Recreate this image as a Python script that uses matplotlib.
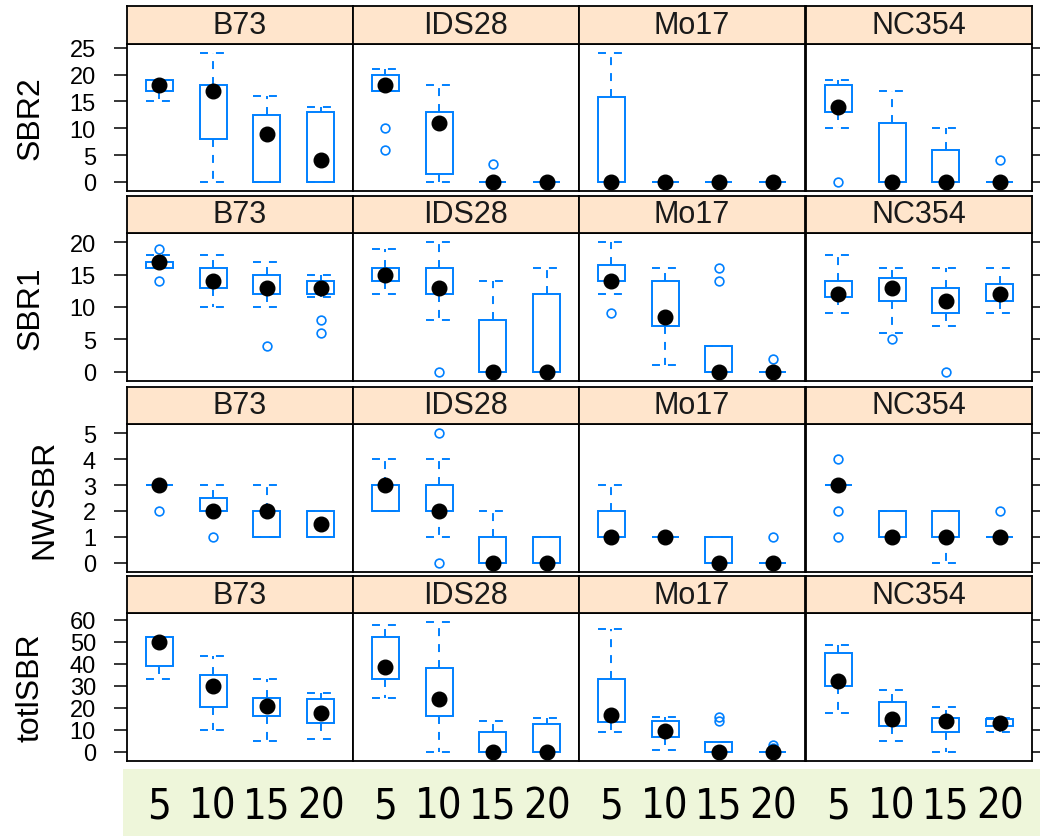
import matplotlib
matplotlib.use('Agg')
import matplotlib.pyplot as plt
import matplotlib.transforms as mtransforms
from matplotlib.patches import Rectangle
from matplotlib import font_manager

# ---------------- data ----------------
genotypes = ['B73', 'IDS28', 'Mo17', 'NC354']
densities = ['5', '10', '15', '20']
traits = ['SBR2', 'SBR1', 'NWSBR', 'totlSBR']
yticks = {
    'SBR2': [0, 5, 10, 15, 20, 25],
    'SBR1': [0, 5, 10, 15, 20],
    'NWSBR': [0, 1, 2, 3, 4, 5],
    'totlSBR': [0, 10, 20, 30, 40, 50, 60],
}

# each array: [genotype][density]  (lower whisker, Q1, median, Q3, upper whisker)
SBR2_low = [[15, 0, 0, 0], [17, 0, 0, 0], [0, 0, 0, 0], [10, 0, 0, 0]]
SBR2_q1 = [[17, 8, 0, 0], [17, 1.5, 0, 0], [0, 0, 0, 0], [13, 0, 0, 0]]
SBR2_med = [[18, 17, 9, 4], [18, 11, 0, 0], [0, 0, 0, 0], [14, 0, 0, 0]]
SBR2_q3 = [[19, 18, 12.5, 13], [20, 13, 0, 0], [15.75, 0, 0, 0], [18, 11, 6, 0]]
SBR2_up = [[19, 24, 16, 14], [21, 18, 0, 0], [24, 0, 0, 0], [19, 17, 10, 0]]
SBR2_out = [[[], [], [], []], [[10, 6], [], [3.4], []], [[], [], [], []], [[0], [], [], [4]]]

SBR1_low = [[16, 10, 10, 11.5], [12, 8, 0, 0], [12, 1, 0, 0], [9, 6, 7, 9]]
SBR1_q1 = [[16, 13, 12, 12], [14, 12, 0, 0], [14, 7, 0, 0], [11.5, 11, 9, 11]]
SBR1_med = [[17, 14, 13, 13], [15, 13, 0, 0], [14, 8.5, 0, 0], [12, 13, 11, 12]]
SBR1_q3 = [[17, 16, 15, 14], [16, 16, 8, 12], [16.5, 14, 4, 0], [14, 14.5, 13, 13.5]]
SBR1_up = [[18, 18, 17, 15], [19, 20, 14, 16], [20, 16, 4, 0], [18, 16, 16, 16]]
SBR1_out = [[[19, 14], [], [4], [8, 6]], [[], [0], [], []], [[9], [], [16, 14], [2]], [[], [5], [0], []]]

NWSBR_low = [[3, 2, 1, 1], [2, 1, 0, 0], [1, 1, 0, 0], [3, 1, 0, 1]]
NWSBR_q1 = [[3, 2, 1, 1], [2, 2, 0, 0], [1, 1, 0, 0], [3, 1, 1, 1]]
NWSBR_med = [[3, 2, 2, 1.5], [3, 2, 0, 0], [1, 1, 0, 0], [3, 1, 1, 1]]
NWSBR_q3 = [[3, 2.5, 2, 2], [3, 3, 1, 1], [2, 1, 1, 0], [3, 2, 2, 1]]
NWSBR_up = [[3, 3, 3, 2], [4, 4, 2, 1], [3, 1, 1, 0], [3, 2, 2, 1]]
NWSBR_out = [[[2], [1], [], []], [[], [5, 0], [], []], [[], [], [], [1]], [[4, 2, 1], [], [], [2]]]

totl_low = [[33, 10, 5, 6], [24.5, 0, 0, 0], [9, 1, 0, 0], [17.5, 5, 0, 9]]
totl_q1 = [[39, 20.5, 16.5, 13], [33, 16.5, 0, 0], [13.5, 7, 0, 0], [30, 12, 9, 12]]
totl_med = [[50, 30, 21, 17.5], [38.5, 24, 0, 0], [17, 9.5, 0, 0], [32, 15, 14, 13]]
totl_q3 = [[52, 35, 24.5, 24], [52, 38, 9, 12.5], [33, 14, 4.5, 0], [45, 22.5, 15.5, 15]]
totl_up = [[52, 43.5, 33, 27], [57.5, 59, 14, 15.5], [56, 16, 4.5, 0], [48.5, 28, 20.5, 15.5]]
totl_out = [[[], [], [], []], [[], [], [], []], [[], [], [16, 14], [3, 2]], [[], [], [], []]]

stats = {
    'SBR2': (SBR2_low, SBR2_q1, SBR2_med, SBR2_q3, SBR2_up, SBR2_out),
    'SBR1': (SBR1_low, SBR1_q1, SBR1_med, SBR1_q3, SBR1_up, SBR1_out),
    'NWSBR': (NWSBR_low, NWSBR_q1, NWSBR_med, NWSBR_q3, NWSBR_up, NWSBR_out),
    'totlSBR': (totl_low, totl_q1, totl_med, totl_q3, totl_up, totl_out),
}

# ---------------- style / layout ----------------
W, H = 1040, 837
BLUE = '#0080ff'
STRIP = '#ffe5cc'
BAND = '#eef6da'
plt.rcParams['font.family'] = ['Liberation Sans', 'DejaVu Sans']

# find a narrow/condensed face for the density labels (Calibri-like narrow digits)
narrow_fp = None
band_size = 27
prefs = ['LiberationSansNarrow-Regular', 'LiberationSansNarrow', 'DejaVuSansCondensed.ttf',
         'Narrow', 'Condensed']
entries = font_manager.fontManager.ttflist
for key in prefs:
    for f in entries:
        fn = f.fname.split('/')[-1]
        if key in fn and 'Bold' not in fn and 'Oblique' not in fn and 'Italic' not in fn:
            narrow_fp = f.fname
            break
    if narrow_fp:
        break
if narrow_fp:
    band_font = font_manager.FontProperties(fname=narrow_fp, size=30)
else:
    band_font = font_manager.FontProperties(family='Liberation Sans', size=band_size)

col_left = [127, 353, 579, 806]
col_w = 226
rows_px = [(7, 45, 192), (197, 234, 382), (388, 425, 573), (577, 614, 762)]
ylab_pad = {'SBR2': 17, 'SBR1': 17, 'NWSBR': 17, 'totlSBR': 17}

fig = plt.figure(figsize=(W / 100, H / 100), dpi=100)


def rect(x0, top, w, bottom):
    return [x0 / W, 1 - bottom / H, w / W, (bottom - top) / H]


DASH = (0, (4.1, 4.1))
LW = 1.4
BW = 0.5

bottom_axes = []
for r, trait in enumerate(traits):
    low, q1, med, q3, up, outl = stats[trait]
    allv = [v for arr in (low, up) for g in arr for v in g]
    allv += [v for g in outl for d in g for v in d]
    vmin, vmax = min(allv), max(allv)
    ext = 0.07 * (vmax - vmin)
    st, sb, pb = rows_px[r]
    for c, gen in enumerate(genotypes):
        ax = fig.add_axes(rect(col_left[c], sb, col_w, pb))
        ax.set_xlim(0.4, 4.6)
        ax.set_ylim(vmin - ext, vmax + ext)
        for i in range(len(densities)):
            x = i + 1
            ax.add_patch(Rectangle((x - BW / 2, q1[c][i]), BW, q3[c][i] - q1[c][i],
                                   fill=False, ec=BLUE, lw=LW, zorder=3))
            ax.plot([x, x], [q3[c][i], up[c][i]], color=BLUE, lw=LW, ls=DASH, zorder=2)
            ax.plot([x, x], [q1[c][i], low[c][i]], color=BLUE, lw=LW, ls=DASH, zorder=2)
            for yv in (up[c][i], low[c][i]):
                ax.plot([x - BW / 2, x + BW / 2], [yv, yv], color=BLUE, lw=LW, ls=DASH, zorder=2)
            if outl[c][i]:
                ax.plot([x] * len(outl[c][i]), outl[c][i], 'o', mfc='none', mec=BLUE,
                        ms=6.3, mew=1.2, zorder=4, clip_on=False)
            ax.plot([x], [med[c][i]], 'o', color='black', ms=10.5, zorder=5, clip_on=False)
        ax.set_xticks([])
        ax.set_yticks(yticks[trait])
        for s in ax.spines.values():
            s.set_linewidth(1.3)
            s.set_color('black')
        if c == 0:
            ax.tick_params(axis='y', left=True, right=False, labelleft=True,
                           length=9.4, width=1.1, direction='out', labelsize=17, pad=13)
            ax.set_ylabel(trait, fontsize=23, labelpad=ylab_pad[trait])
        elif c == 3:
            ax.tick_params(axis='y', left=False, right=True, labelleft=False,
                           labelright=False, length=9.4, width=1.1, direction='out')
        else:
            ax.tick_params(axis='y', left=False, right=False, labelleft=False)
        if r == len(traits) - 1:
            bottom_axes.append(ax)
        # strip
        sax = fig.add_axes(rect(col_left[c], st, col_w, sb))
        sax.set_facecolor(STRIP)
        sax.set_xticks([])
        sax.set_yticks([])
        for s in sax.spines.values():
            s.set_linewidth(1.3)
            s.set_color('black')
        sax.text(0.5, 0.5, gen, transform=sax.transAxes, ha='center', va='center',
                 fontsize=22, color='#1a1a1a')

# green band with density labels
bax = fig.add_axes([123 / W, 0, (W - 123) / W, (H - 770) / H])
bax.set_facecolor(BAND)
bax.set_xticks([])
bax.set_yticks([])
for s in bax.spines.values():
    s.set_visible(False)
for c in range(len(genotypes)):
    tr = mtransforms.blended_transform_factory(bottom_axes[c].transData, bax.transAxes)
    for i, d in enumerate(densities):
        bax.text(i + 1, 0.46, d, transform=tr, ha='center', va='center',
                 fontproperties=band_font, color='black')

fig.savefig('out.png', dpi=100)
